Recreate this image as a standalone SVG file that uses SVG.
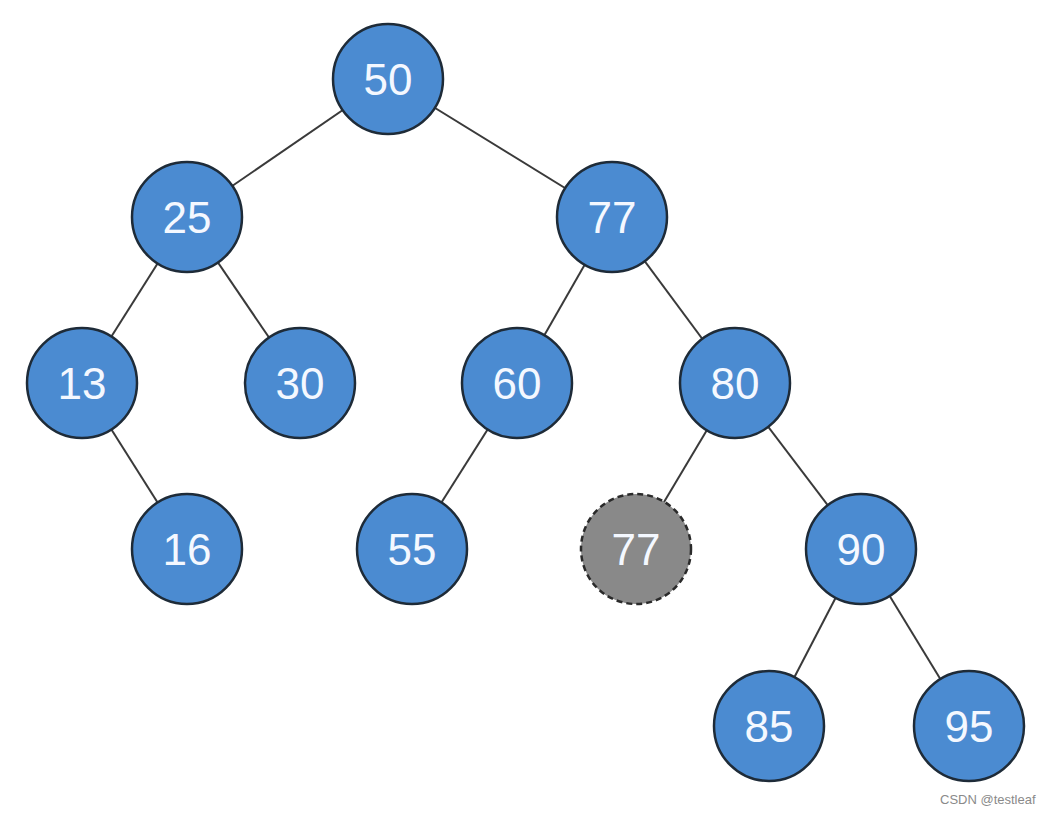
<svg xmlns="http://www.w3.org/2000/svg" width="1053" height="814" viewBox="0 0 1053 814">
<style>
.n{fill:#4b8bd1;stroke:#1e2b38;stroke-width:2.5}
.g{fill:#898989;stroke:#2a2a2a;stroke-width:2.5;stroke-dasharray:6 4}
.t{font-family:"Liberation Sans",Arial,sans-serif;font-size:44px;fill:#f4f8ff;text-anchor:middle;dominant-baseline:central}
.e line{stroke:#3a3a3a;stroke-width:2}
.w{font-family:"Liberation Sans",Arial,sans-serif;font-size:13px;fill:#8a8a8a}
</style>
<rect width="1053" height="814" fill="#ffffff"/>
<g id="connectors" class="e">
<line x1="388" y1="79" x2="187" y2="217"/>
<line x1="388" y1="79" x2="612" y2="217"/>
<line x1="187" y1="217" x2="82" y2="383"/>
<line x1="187" y1="217" x2="300" y2="383"/>
<line x1="612" y1="217" x2="517" y2="383"/>
<line x1="612" y1="217" x2="735" y2="383"/>
<line x1="82" y1="383" x2="187" y2="549"/>
<line x1="517" y1="383" x2="412" y2="549"/>
<line x1="735" y1="383" x2="636" y2="549"/>
<line x1="735" y1="383" x2="861" y2="549"/>
<line x1="861" y1="549" x2="769" y2="726"/>
<line x1="861" y1="549" x2="969" y2="726"/>
</g>
<g id="n50"><circle class="n" cx="388" cy="79" r="55"/><text class="t" x="388" y="79">50</text></g>
<g id="n25"><circle class="n" cx="187" cy="217" r="55"/><text class="t" x="187" y="217">25</text></g>
<g id="n77"><circle class="n" cx="612" cy="217" r="55"/><text class="t" x="612" y="217">77</text></g>
<g id="n13"><circle class="n" cx="82" cy="383" r="55"/><text class="t" x="82" y="383">13</text></g>
<g id="n30"><circle class="n" cx="300" cy="383" r="55"/><text class="t" x="300" y="383">30</text></g>
<g id="n60"><circle class="n" cx="517" cy="383" r="55"/><text class="t" x="517" y="383">60</text></g>
<g id="n80"><circle class="n" cx="735" cy="383" r="55"/><text class="t" x="735" y="383">80</text></g>
<g id="n16"><circle class="n" cx="187" cy="549" r="55"/><text class="t" x="187" y="549">16</text></g>
<g id="n55"><circle class="n" cx="412" cy="549" r="55"/><text class="t" x="412" y="549">55</text></g>
<g id="n77b"><circle class="g" cx="636" cy="549" r="55"/><text class="t" x="636" y="549">77</text></g>
<g id="n90"><circle class="n" cx="861" cy="549" r="55"/><text class="t" x="861" y="549">90</text></g>
<g id="n85"><circle class="n" cx="769" cy="726" r="55"/><text class="t" x="769" y="726">85</text></g>
<g id="n95"><circle class="n" cx="969" cy="726" r="55"/><text class="t" x="969" y="726">95</text></g>
<text class="w" x="940" y="804">CSDN @testleaf</text>
</svg>
